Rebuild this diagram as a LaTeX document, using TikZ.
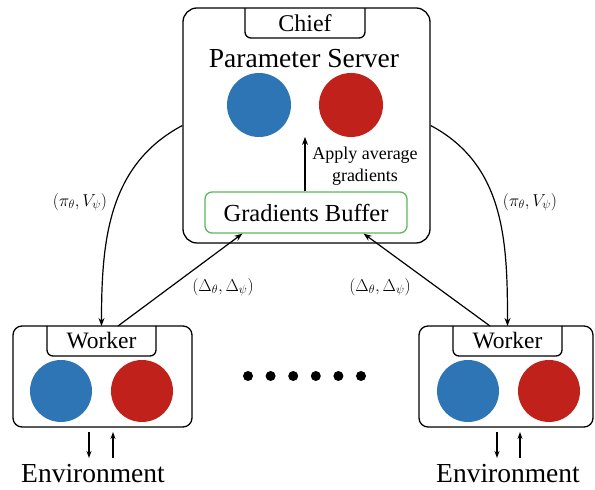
\documentclass[tikz,border=0pt]{standalone}
\usepackage{fontspec}
\setmainfont{Liberation Serif}
\usetikzlibrary{arrows.meta,calc}

\definecolor{netblue}{RGB}{46,117,182}
\definecolor{netred}{RGB}{192,33,26}
\definecolor{bufgreen}{RGB}{92,184,92}

\tikzset{
  box/.style={draw, line width=1.3pt, rounded corners=14pt, inner sep=0pt},
  tab/.style={line width=1.3pt, rounded corners=6pt},
  buf/.style={draw=bufgreen, line width=1.3pt, rounded corners=7pt, inner sep=0pt,
              minimum width=202pt, minimum height=41pt,
              font=\fontsize{24.5}{28}\selectfont},
  bluenet/.style={circle, fill=netblue, minimum size=64pt, inner sep=0pt},
  rednet/.style={circle, fill=netred, minimum size=64pt, inner sep=0pt},
  wbluenet/.style={circle, fill=netblue, minimum size=62pt, inner sep=0pt},
  wrednet/.style={circle, fill=netred, minimum size=62pt, inner sep=0pt},
  conn/.style={line width=1.2pt, -{Stealth[length=8pt,width=6pt]}},
  envconn/.style={line width=1.2pt, -{Stealth[length=7pt,width=5pt]}},
  lbl/.style={font=\fontsize{17}{19}\selectfont, inner sep=0pt},
  dot/.style={circle, fill=black, minimum size=10pt, inner sep=0pt},
}

\begin{document}
\begin{tikzpicture}[x=1pt,y=1pt]
\useasboundingbox (0,0) rectangle (595,490);

% ---- chief / parameter server ----
\node[box, minimum width=247pt, minimum height=235pt] (chief) at (306.5,364.5) {};
\draw[tab] (245,482) |- (365,452) -- (365,482);
\node[font=\fontsize{24}{26}\selectfont] (chieflbl) at (305,467) {Chief};
\node[font=\fontsize{27.5}{30}\selectfont] (ps) at (304,431) {Parameter Server};
\node[bluenet] (psblue) at (259,385) {};
\node[rednet] (psred) at (351,385) {};
\node[buf] (buffer) at (306,277.5) {Gradients Buffer};
\node[font=\fontsize{18}{22}\selectfont, align=center, inner sep=0pt] (apply) at (365,324)
  {Apply average\\gradients};
\draw[conn] (buffer.north -| 305,0) -- (305,353);

% ---- left worker ----
\node[box, rounded corners=9pt, minimum width=179pt, minimum height=101pt] (wl) at (102.5,113.5) {};
\draw[tab] (47,164) |- (156,134) -- (156,164);
\coordinate (tabl) at (101.5,164);
\node[font=\fontsize{23.5}{26}\selectfont] (wllbl) at (101.5,149) {Worker};
\node[wbluenet] (wlblue) at (61,99) {};
\node[wrednet] (wlred) at (142,99) {};
\node[font=\fontsize{27.5}{30}\selectfont] (envl) at (93,16) {Environment};
\draw[envconn] (89,58) -- (89,32);
\draw[envconn] (113,32) -- (113,58);

% ---- right worker ----
\node[box, rounded corners=9pt, minimum width=174pt, minimum height=101pt] (wr) at (506,113.5) {};
\draw[tab] (453,164) |- (562,134) -- (562,164);
\coordinate (tabr) at (507.5,164);
\node[font=\fontsize{23.5}{26}\selectfont] (wrlbl) at (507.5,149) {Worker};
\node[wbluenet] (wrblue) at (468,99) {};
\node[wrednet] (wrred) at (549,99) {};
\node[font=\fontsize{27.5}{30}\selectfont] (envr) at (508,16) {Environment};
\draw[envconn] (497,58) -- (497,32);
\draw[envconn] (520,32) -- (520,58);

% ---- more workers ----
\foreach \i in {0,...,5}
  \node[dot] (dot\i) at (248+22.6*\i,114) {};

% ---- parameters down to the workers ----
\draw[conn] (chief.west) to[out=208,in=90] (tabl);
\draw[conn] (chief.east) to[out=-28,in=90] (tabr);
\node[lbl] (pil) at (80,288) {$(\pi_\theta, V_\psi)$};
\node[lbl] (pir) at (530,288) {$(\pi_\theta, V_\psi)$};

% ---- gradients up to the buffer ----
\draw[conn] ([xshift=16.5pt]tabl) -- ([xshift=38pt]buffer.south west);
\draw[conn] ([xshift=-17.5pt]tabr) -- ([xshift=-44pt]buffer.south east);
\node[lbl] (dl) at (223,203) {$(\Delta_\theta, \Delta_\psi)$};
\node[lbl] (dr) at (380,203) {$(\Delta_\theta, \Delta_\psi)$};
\end{tikzpicture}
\end{document}
